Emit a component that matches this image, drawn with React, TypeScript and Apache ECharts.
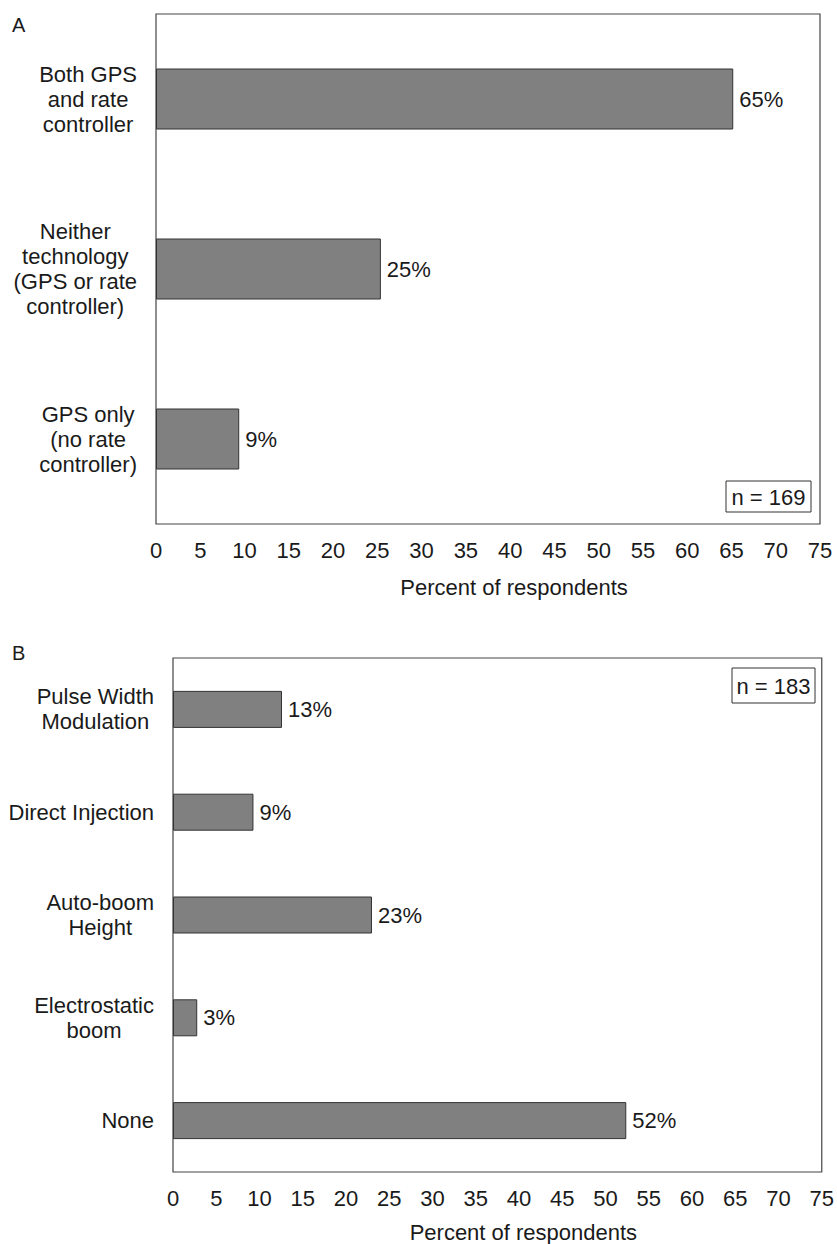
import React, { useEffect, useRef } from "react";
import * as echarts from "echarts";

const categoriesA = [
  "Both GPS\nand rate\ncontroller",
  "Neither\ntechnology\n(GPS or rate\ncontroller)",
  "GPS only\n(no rate\ncontroller)",
];
const valuesA = [65.2, 25.4, 9.4];
const labelsA = ["65%", "25%", "9%"];

const categoriesB = [
  "Pulse Width\nModulation",
  "Direct Injection",
  "Auto-boom\nHeight",
  "Electrostatic\nboom",
  "None",
];
const valuesB = [12.6, 9.3, 23.0, 2.8, 52.4];
const labelsB = ["13%", "9%", "23%", "3%", "52%"];

const xTicks = { min: 0, max: 75, interval: 5 };
const axisTitle = "Percent of respondents";
const panelLetters = ["A", "B"];
const sampleSizes = ["n = 169", "n = 183"];

const FONT = "'Liberation Sans', Arial, Helvetica, sans-serif";
const TXT = "#1a1a1a";
const FS = 22;

export default function App() {
  const ref = useRef<HTMLDivElement>(null);
  useEffect(() => {
    if (!ref.current) return;
    const chart = echarts.init(ref.current, undefined, { renderer: "svg" });
    const catLabel = (v: string) =>
      v
        .split("\n")
        .map((l) => `{c|${l}}`)
        .join("\n");
    const yAxisBase = (cats: string[], gi: number) => ({
      type: "category",
      gridIndex: gi,
      data: cats,
      inverse: true,
      axisLine: { show: false },
      axisTick: { show: false },
      axisLabel: {
        margin: 19,
        align: "right",
        formatter: catLabel,
        rich: {
          c: { align: "center", fontSize: FS, lineHeight: 25, color: TXT, fontFamily: FONT },
        },
      },
    });
    const xAxisBase = (gi: number, gap: number) => ({
      type: "value",
      gridIndex: gi,
      min: xTicks.min,
      max: xTicks.max,
      interval: xTicks.interval,
      splitLine: { show: false },
      axisLine: { show: false },
      axisTick: { show: false },
      axisLabel: { margin: 15, fontSize: FS, color: TXT, fontFamily: FONT },
      name: axisTitle,
      nameLocation: "middle",
      nameGap: gap,
      nameTextStyle: { fontSize: FS, color: TXT, fontFamily: FONT, padding: [0, 0, 0, 52] },
    });
    const barSeries = (vals: number[], labs: string[], gi: number, w: number) => ({
      type: "bar",
      xAxisIndex: gi,
      yAxisIndex: gi,
      data: vals,
      barWidth: w,
      itemStyle: { color: "#808080", borderColor: "#333", borderWidth: 1 },
      label: {
        show: true,
        position: "right",
        distance: 6,
        fontSize: FS,
        color: TXT,
        fontFamily: FONT,
        formatter: (p: any) => labs[p.dataIndex],
      },
    });
    const nBox = (x: number, y: number, w: number, h: number, text: string) => ({
      type: "group",
      children: [
        { type: "rect", shape: { x, y, width: w, height: h }, style: { fill: "#fff", stroke: "#333", lineWidth: 1 } },
        {
          type: "text",
          x: x + w / 2,
          y: y + h / 2 + 1,
          style: { text, fontSize: FS, fill: TXT, fontFamily: FONT, align: "center", verticalAlign: "middle" },
        },
      ],
    });
    chart.setOption({
      animation: false,
      backgroundColor: "#fff",
      textStyle: { fontFamily: FONT },
      grid: [
        { left: 156, right: 17, top: 14, bottom: 720, show: true, borderColor: "#444", borderWidth: 1.2, containLabel: false },
        { left: 173, right: 12, top: 658, bottom: 72, show: true, borderColor: "#444", borderWidth: 1.2, containLabel: false },
      ],
      xAxis: [xAxisBase(0, 52), xAxisBase(1, 49)],
      yAxis: [yAxisBase(categoriesA, 0), yAxisBase(categoriesB, 1)],
      series: [barSeries(valuesA, labelsA, 0, 61), barSeries(valuesB, labelsB, 1, 37)],
      graphic: [
        { type: "text", x: 12, y: 15, style: { text: panelLetters[0], fontSize: 20, fill: TXT, fontFamily: FONT } },
        { type: "text", x: 12, y: 643, style: { text: panelLetters[1], fontSize: 20, fill: TXT, fontFamily: FONT } },
        nBox(726, 481, 85, 31, sampleSizes[0]),
        nBox(732, 668, 83, 35, sampleSizes[1]),
      ],
    });
    return () => chart.dispose();
  }, []);
  return (
    <div
      ref={ref}
      style={{ position: "absolute", left: 0, top: 0, width: 837, height: 1244 }}
    />
  );
}
